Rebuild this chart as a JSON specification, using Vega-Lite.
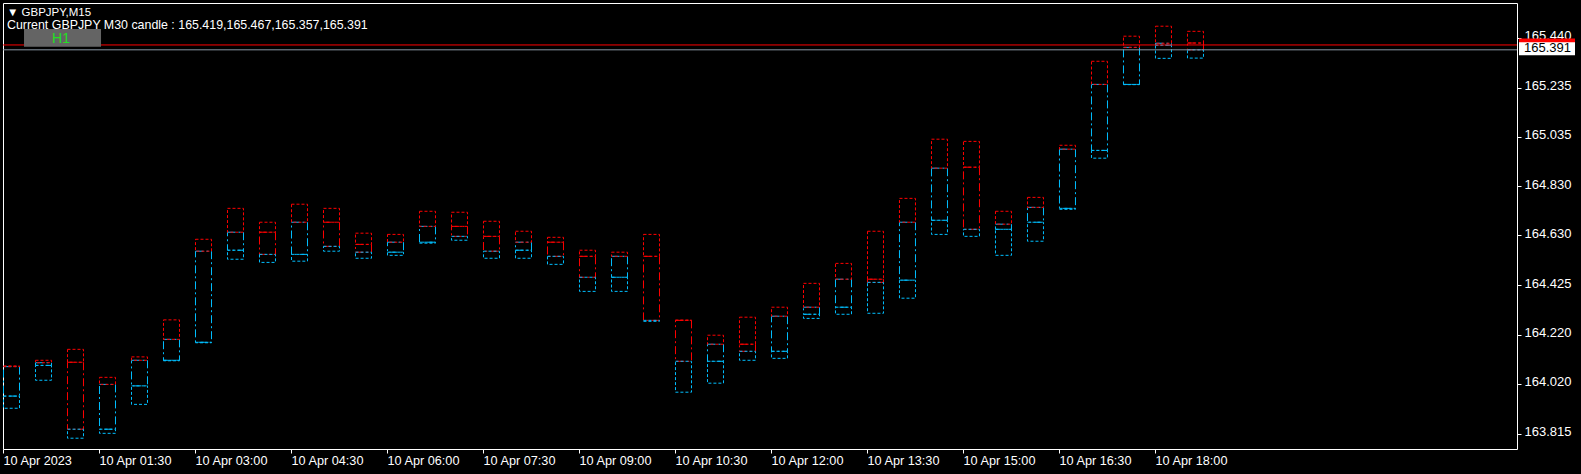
{
  "$schema": "https://vega.github.io/schema/vega-lite/v6.json",
  "width": 1514,
  "height": 446,
  "autosize": "none",
  "padding": {"left": 3, "top": 3, "right": 64, "bottom": 25},
  "background": "#000000",
  "config": {
    "view": {"stroke": "#FFFFFF", "strokeWidth": 1, "fill": "#000000"},
    "font": "Liberation Sans",
    "axis": {"grid": false, "domain": false, "labelColor": "#FFFFFF", "tickColor": "#FFFFFF", "labelFont": "Liberation Sans", "labelFontSize": 12.7, "tickSize": 4, "zindex": 0}
  },
  "title": {
    "text": "▼ GBPJPY,M15",
    "subtitle": "Current GBPJPY M30 candle : 165.419,165.467,165.357,165.391",
    "anchor": "start",
    "frame": "group",
    "offset": -28.5,
    "dx": 4,
    "color": "#FFFFFF",
    "subtitleColor": "#FFFFFF",
    "font": "Liberation Sans, DejaVu Sans",
    "subtitleFont": "Liberation Sans",
    "fontSize": 11.5,
    "subtitleFontSize": 12.4,
    "fontWeight": "normal",
    "subtitlePadding": 0.5
  },
  "datasets": {
    "candles": [
      {"t": "2023-04-10T00:00:00Z", "o": 163.969, "h": 164.093, "l": 163.919, "c": 164.090},
      {"t": "2023-04-10T00:30:00Z", "o": 164.095, "h": 164.116, "l": 164.034, "c": 164.106},
      {"t": "2023-04-10T01:00:00Z", "o": 164.108, "h": 164.161, "l": 163.796, "c": 163.833},
      {"t": "2023-04-10T01:30:00Z", "o": 163.833, "h": 164.046, "l": 163.816, "c": 164.017},
      {"t": "2023-04-10T02:00:00Z", "o": 164.011, "h": 164.130, "l": 163.935, "c": 164.116},
      {"t": "2023-04-10T02:30:00Z", "o": 164.116, "h": 164.282, "l": 164.114, "c": 164.202},
      {"t": "2023-04-10T03:00:00Z", "o": 164.190, "h": 164.613, "l": 164.188, "c": 164.564},
      {"t": "2023-04-10T03:30:00Z", "o": 164.568, "h": 164.740, "l": 164.531, "c": 164.642},
      {"t": "2023-04-10T04:00:00Z", "o": 164.642, "h": 164.683, "l": 164.518, "c": 164.551},
      {"t": "2023-04-10T04:30:00Z", "o": 164.551, "h": 164.757, "l": 164.523, "c": 164.683},
      {"t": "2023-04-10T05:00:00Z", "o": 164.683, "h": 164.740, "l": 164.564, "c": 164.584},
      {"t": "2023-04-10T05:30:00Z", "o": 164.592, "h": 164.638, "l": 164.535, "c": 164.560},
      {"t": "2023-04-10T06:00:00Z", "o": 164.560, "h": 164.633, "l": 164.547, "c": 164.601},
      {"t": "2023-04-10T06:30:00Z", "o": 164.601, "h": 164.728, "l": 164.597, "c": 164.666},
      {"t": "2023-04-10T07:00:00Z", "o": 164.666, "h": 164.724, "l": 164.609, "c": 164.625},
      {"t": "2023-04-10T07:30:00Z", "o": 164.625, "h": 164.687, "l": 164.535, "c": 164.564},
      {"t": "2023-04-10T08:00:00Z", "o": 164.568, "h": 164.646, "l": 164.535, "c": 164.601},
      {"t": "2023-04-10T08:30:00Z", "o": 164.601, "h": 164.621, "l": 164.510, "c": 164.543},
      {"t": "2023-04-10T09:00:00Z", "o": 164.543, "h": 164.568, "l": 164.399, "c": 164.457},
      {"t": "2023-04-10T09:30:00Z", "o": 164.457, "h": 164.560, "l": 164.399, "c": 164.543},
      {"t": "2023-04-10T10:00:00Z", "o": 164.543, "h": 164.633, "l": 164.276, "c": 164.280},
      {"t": "2023-04-10T10:30:00Z", "o": 164.280, "h": 164.281, "l": 163.985, "c": 164.112},
      {"t": "2023-04-10T11:00:00Z", "o": 164.112, "h": 164.219, "l": 164.022, "c": 164.182},
      {"t": "2023-04-10T11:30:00Z", "o": 164.182, "h": 164.293, "l": 164.116, "c": 164.153},
      {"t": "2023-04-10T12:00:00Z", "o": 164.153, "h": 164.334, "l": 164.124, "c": 164.297},
      {"t": "2023-04-10T12:30:00Z", "o": 164.305, "h": 164.432, "l": 164.288, "c": 164.334},
      {"t": "2023-04-10T13:00:00Z", "o": 164.334, "h": 164.514, "l": 164.305, "c": 164.449},
      {"t": "2023-04-10T13:30:00Z", "o": 164.449, "h": 164.646, "l": 164.309, "c": 164.436},
      {"t": "2023-04-10T14:00:00Z", "o": 164.445, "h": 164.781, "l": 164.371, "c": 164.683},
      {"t": "2023-04-10T14:30:00Z", "o": 164.691, "h": 165.024, "l": 164.633, "c": 164.905},
      {"t": "2023-04-10T15:00:00Z", "o": 164.909, "h": 165.015, "l": 164.625, "c": 164.654},
      {"t": "2023-04-10T15:30:00Z", "o": 164.654, "h": 164.728, "l": 164.547, "c": 164.675},
      {"t": "2023-04-10T16:00:00Z", "o": 164.683, "h": 164.785, "l": 164.605, "c": 164.744},
      {"t": "2023-04-10T16:30:00Z", "o": 164.740, "h": 164.999, "l": 164.736, "c": 164.983},
      {"t": "2023-04-10T17:00:00Z", "o": 164.978, "h": 165.344, "l": 164.946, "c": 165.249},
      {"t": "2023-04-10T17:30:00Z", "o": 165.249, "h": 165.447, "l": 165.248, "c": 165.401},
      {"t": "2023-04-10T18:00:00Z", "o": 165.410, "h": 165.488, "l": 165.356, "c": 165.418},
      {"t": "2023-04-10T18:30:00Z", "o": 165.419, "h": 165.467, "l": 165.357, "c": 165.391}
    ]
  },
  "layer": [
    {
      "data": {"name": "candles"},
      "mark": {"type": "rect", "fill": "transparent", "strokeWidth": 1, "strokeDash": [8, 3, 2, 3], "xOffset": 0.5, "x2Offset": 16.5},
      "encoding": {
        "x": {"field": "t", "type": "temporal", "scale": {"type": "utc", "domain": [1681084800000, 1681169964000]},
          "axis": {"values": [1681084800000, 1681090200000, 1681095600000, 1681101000000, 1681106400000, 1681111800000, 1681117200000, 1681122600000, 1681128000000, 1681133400000, 1681138800000, 1681144200000, 1681149600000],
            "labelExpr": "utcFormat(datum.value, '%H:%M') == '00:00' ? '10 Apr 2023' : utcFormat(datum.value, '%d %b %H:%M')",
            "labelAlign": "left", "labelFlush": false, "labelOverlap": false, "labelBound": false, "labelPadding": 1, "title": null, "zindex": 0}},
        "x2": {"field": "t"},
        "y": {"field": "o", "type": "quantitative", "scale": {"domain": [163.7517, 165.5833], "nice": false, "zero": false},
          "axis": {"orient": "right", "values": [163.815, 164.020, 164.220, 164.425, 164.630, 164.830, 165.035, 165.235, 165.440], "format": ".3f", "labelFontSize": 13, "labelPadding": 3, "labelOffset": -2, "labelAlign": "left", "labelBaseline": "middle", "labelFlush": false, "labelOverlap": false, "labelBound": false, "title": null, "zindex": 0}},
        "y2": {"field": "c"},
        "stroke": {"condition": {"test": "datum.o > datum.c", "value": "#FF0000"}, "value": "#00BFFF"}
      }
    },
    {
      "data": {"name": "candles"},
      "transform": [{"filter": "datum.c >= datum.o"}],
      "mark": {"type": "rect", "fill": "transparent", "stroke": "#FF0000", "strokeWidth": 1, "strokeDash": [3, 2], "xOffset": 0.5, "x2Offset": 16.5},
      "encoding": {
        "x": {"field": "t", "type": "temporal", "scale": {"type": "utc", "domain": [1681084800000, 1681169964000]}, "axis": {"title": null}},
        "x2": {"field": "t"},
        "y": {"field": "h", "type": "quantitative", "scale": {"domain": [163.7517, 165.5833], "nice": false, "zero": false}, "axis": {"title": null}},
        "y2": {"field": "c"}
      }
    },
    {
      "data": {"name": "candles"},
      "transform": [{"filter": "datum.c < datum.o"}],
      "mark": {"type": "rect", "fill": "transparent", "stroke": "#FF0000", "strokeWidth": 1, "strokeDash": [3, 2], "xOffset": 0.5, "x2Offset": 16.5},
      "encoding": {
        "x": {"field": "t", "type": "temporal", "scale": {"type": "utc", "domain": [1681084800000, 1681169964000]}, "axis": {"title": null}},
        "x2": {"field": "t"},
        "y": {"field": "h", "type": "quantitative", "scale": {"domain": [163.7517, 165.5833], "nice": false, "zero": false}, "axis": {"title": null}},
        "y2": {"field": "o"}
      }
    },
    {
      "data": {"name": "candles"},
      "transform": [{"filter": "datum.c >= datum.o"}],
      "mark": {"type": "rect", "fill": "transparent", "stroke": "#00BFFF", "strokeWidth": 1, "strokeDash": [3, 2], "xOffset": 0.5, "x2Offset": 16.5},
      "encoding": {
        "x": {"field": "t", "type": "temporal", "scale": {"type": "utc", "domain": [1681084800000, 1681169964000]}, "axis": {"title": null}},
        "x2": {"field": "t"},
        "y": {"field": "o", "type": "quantitative", "scale": {"domain": [163.7517, 165.5833], "nice": false, "zero": false}, "axis": {"title": null}},
        "y2": {"field": "l"}
      }
    },
    {
      "data": {"name": "candles"},
      "transform": [{"filter": "datum.c < datum.o"}],
      "mark": {"type": "rect", "fill": "transparent", "stroke": "#00BFFF", "strokeWidth": 1, "strokeDash": [3, 2], "xOffset": 0.5, "x2Offset": 16.5},
      "encoding": {
        "x": {"field": "t", "type": "temporal", "scale": {"type": "utc", "domain": [1681084800000, 1681169964000]}, "axis": {"title": null}},
        "x2": {"field": "t"},
        "y": {"field": "c", "type": "quantitative", "scale": {"domain": [163.7517, 165.5833], "nice": false, "zero": false}, "axis": {"title": null}},
        "y2": {"field": "l"}
      }
    },
    {
      "data": {"values": [{"price": 165.411}]},
      "mark": {"type": "rule", "stroke": "#FF0000", "strokeWidth": 1},
      "encoding": {
        "y": {"field": "price", "type": "quantitative", "scale": {"domain": [163.7517, 165.5833], "nice": false, "zero": false}, "axis": {"title": null}}
      }
    },
    {
      "data": {"values": [{"price": 165.391}]},
      "mark": {"type": "rule", "stroke": "#8A96A3", "strokeWidth": 1},
      "encoding": {
        "y": {"field": "price", "type": "quantitative", "scale": {"domain": [163.7517, 165.5833], "nice": false, "zero": false}, "axis": {"title": null}}
      }
    },
    {
      "data": {"values": [{"price": 165.411}]},
      "mark": {"type": "rect", "fill": "#FF0000", "xOffset": 2, "x2Offset": 58, "yOffset": -6.5, "y2Offset": 7.5, "clip": false},
      "encoding": {
        "x": {"value": "width"},
        "x2": {"value": "width"},
        "y": {"field": "price", "type": "quantitative", "scale": {"domain": [163.7517, 165.5833], "nice": false, "zero": false}, "axis": {"title": null}},
        "y2": {"field": "price"}
      }
    },
    {
      "data": {"values": [{"price": 165.391}]},
      "mark": {"type": "rect", "fill": "#FFFFFF", "xOffset": 2, "x2Offset": 58, "yOffset": -7.5, "y2Offset": 5.5, "clip": false},
      "encoding": {
        "x": {"value": "width"},
        "x2": {"value": "width"},
        "y": {"field": "price", "type": "quantitative", "scale": {"domain": [163.7517, 165.5833], "nice": false, "zero": false}, "axis": {"title": null}},
        "y2": {"field": "price"}
      }
    },
    {
      "data": {"values": [{"price": 165.391}]},
      "mark": {"type": "text", "fill": "#000000", "font": "Liberation Sans", "fontSize": 13, "align": "left", "baseline": "middle", "xOffset": 7, "yOffset": -1.5},
      "encoding": {
        "x": {"value": "width"},
        "y": {"field": "price", "type": "quantitative", "scale": {"domain": [163.7517, 165.5833], "nice": false, "zero": false}, "axis": {"title": null}},
        "text": {"field": "price", "type": "quantitative", "format": ".3f"}
      }
    },
    {
      "data": {"values": [{"label": "H1"}]},
      "mark": {"type": "rect", "fill": "#646464"},
      "encoding": {
        "x": {"datum": 1681085982000, "type": "temporal", "scale": {"type": "utc", "domain": [1681084800000, 1681169964000]}, "axis": {"title": null}},
        "x2": {"datum": 1681090314000},
        "y": {"datum": 165.4765, "type": "quantitative", "scale": {"domain": [163.7517, 165.5833], "nice": false, "zero": false}, "axis": {"title": null}},
        "y2": {"datum": 165.4039}
      }
    },
    {
      "data": {"values": [{"label": "H1"}]},
      "mark": {"type": "text", "fill": "#22E022", "font": "Liberation Sans", "fontSize": 14, "align": "center", "baseline": "middle"},
      "encoding": {
        "x": {"datum": 1681088062000, "type": "temporal", "scale": {"type": "utc", "domain": [1681084800000, 1681169964000]}, "axis": {"title": null}},
        "y": {"datum": 165.4375, "type": "quantitative", "scale": {"domain": [163.7517, 165.5833], "nice": false, "zero": false}, "axis": {"title": null}},
        "text": {"field": "label"}
      }
    }
  ]
}
